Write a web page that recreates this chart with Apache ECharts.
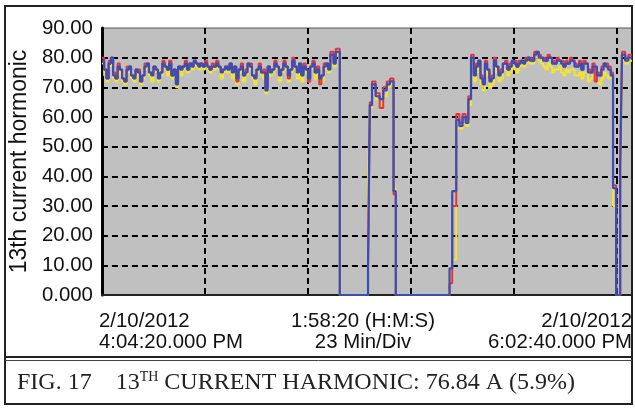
<!DOCTYPE html>
<html>
<head>
<meta charset="utf-8">
<script src="https://cdn.jsdelivr.net/npm/echarts@6/dist/echarts.min.js"></script>
<style>
html,body{margin:0;padding:0;background:#fff;}
#c{width:635px;height:409px;}
</style>
</head>
<body>
<div id="c"></div>
<script>
// sample times in minutes from start (4:04:20 PM)
var times = [0,0.5,1,1.5,2,2.5,3,3.5,4,4.5,5,5.5,6,6.5,7,7.5,8,8.5,9,9.5,
  10,10.5,11,11.5,12,12.5,13,13.5,14,14.5,15,15.5,16,16.5,17,17.5,18,18.5,19,19.5,
  20,20.5,21,21.5,22,22.5,23,23.5,24,24.5,25,25.5,26,26.5,27,27.5,28,28.5,29,29.5,
  30,30.5,31,31.5,32,32.5,33,33.5,34,34.5,35,35.5,36,36.5,37,37.5,38,38.5,39,39.5,
  40,40.5,41,41.5,42,42.5,43,43.5,44,44.5,45,45.5,46,46.5,47,47.5,48,48.5,49,49.5,
  50,50.5,
  51,51.7,52.2,53.1,
  59.4,59.8,60.3,61.1,62,62.8,63.6,64.3,65.1,65.6,
  77.6,78.2,79.1,79.8,80.5,81.2,81.8,82.4,
  83,83.5,84,84.5,85,85.5,86,86.5,87,87.5,88,88.5,89,89.5,90,90.5,91,91.5,92,92.5,
  93,93.5,94,94.5,95,95.5,96,96.5,97,97.5,98,98.5,99,99.5,100,100.5,101,101.5,102,102.5,
  103,103.5,104,104.5,105,105.5,106,106.5,107,107.5,108,108.5,109,109.5,110,110.5,111,111.5,112,112.5,
  113,
  113.6,114.1,114.8,115.7,116.1,116.8,117.5,118.333];

var yellowVals = [78,74,72,77,78,73,72,76,74,72, 71,75,75,73,72,75,73,71,73,76,
  77,74,72,76,75,72,74,77,76,74, 77,73,75,70,76,74,76,77,75,77,
  76,78,77,76,77,76,77,76,75,76, 76,77,76,73,75,76,75,77,73,76,
  71,75,76,72,74,77,76,73,71,75, 76,74,73,68,76,74,75,77,76,72,
  75,77,76,72,75,78,76,73,77,72, 76,75,72,76,77,73,75,72,72,76,
  77,75,
  80,77,81,0,
  38,63,68,66,64,67,70,71,36,0,
  5,12,56,56,58,57,64,78,
  72,75,77,71,69,76,74,70,71,77, 75,72,73,76,76,74,75,77,76,75,
  77,78,77,78,79,78,78,80,80,79, 78,77,76,78,77,75,76,76,77,75,
  74,76,75,76,76,74,74,75,73,75, 75,72,73,74,74,72,71,73,75,74,
  73,
  73,30,0,40,79,78,79,79];

var redVals = [80,76,73,79,80,75,73,78,76,73, 72,77,77,74,74,76,76,72,74,78,
  78,75,75,77,76,74,75,79,77,76, 79,74,76,72,77,77,77,79,76,78,
  78,79,78,78,78,77,79,77,76,78, 77,79,77,76,76,77,77,78,76,77,
  72,76,78,74,76,78,78,74,74,76, 78,75,76,70,77,76,76,79,77,75,
  76,79,77,73,76,80,77,76,78,75, 78,76,72,77,79,75,77,71,74,78,
  78,77,
  82,79,83,0,
  8,65,72,68,63,70,72,73,34,0,
  4,30,61,58,61,59,67,81,
  75,78,79,74,72,79,76,73,74,80, 77,75,76,78,79,76,78,79,79,77,
  79,79,79,80,80,80,79,82,82,81, 80,80,79,81,80,79,78,80,79,79,
  77,79,78,80,79,78,77,79,76,79, 78,76,75,78,72,75,74,77,78,78,
  77,
  75,37,0,44,82,80,81,81];

var blueVals = [79,76,73,78,80,74,73,77,76,73, 72,76,77,74,73,76,75,72,74,77,
  78,75,74,77,76,73,75,78,77,76, 78,74,76,71,77,76,77,78,76,78,
  77,79,78,77,78,77,78,77,76,77, 77,78,77,75,76,77,76,78,75,77,
  73,76,77,74,75,78,77,74,73,76, 77,75,75,69,77,75,76,78,77,74,
  76,78,77,74,76,79,77,75,78,74, 77,76,73,77,78,75,76,73,74,77,
  78,76,
  81,78,82,0,
  9,64,71,67,66,69,71,72,35,0,
  9,35,59,57,60,58,66,80,
  74,77,79,73,71,78,76,72,73,79, 77,74,75,78,78,76,77,79,78,77,
  78,79,78,79,80,79,79,81,82,80, 80,79,79,80,80,78,78,79,79,78,
  77,78,78,79,79,77,77,78,76,78, 78,75,75,77,77,74,74,76,78,77,
  76,
  74,36,0,43,81,79,80,80];

var xMax = 118.333;      // 1:58:20 span
var xDiv = 23;           // 23 Min/Div
var yTicks = [0,10,20,30,40,50,60,70,80,90];
var yTitle = '13th current hormonic';
var startLabel = ['2/10/2012', '4:04:20.000 PM'];
var midLabel = ['1:58:20 (H:M:S)', '23 Min/Div'];
var endLabel = ['2/10/2012', '6:02:40.000 PM'];

function pairs(vals){ return times.map(function(t,i){ return [t, vals[i]]; }); }

var chart = echarts.init(document.getElementById('c'), null, {renderer:'canvas'});
var dash = {color:'#000', width:2, type:[6,4]};
var sans = 'Liberation Sans, Arial, sans-serif';
var serif = 'Liberation Serif, Times New Roman, serif';
chart.setOption({
  animation:false,
  backgroundColor:'#fff',
  grid:{left:98, top:28, right:3, bottom:114, show:true, backgroundColor:'#c0c0c0', borderColor:'#555', borderWidth:1},
  xAxis:{type:'value', min:0, max:xMax, interval:xDiv,
    axisLine:{show:true, onZero:false, lineStyle:{color:'#222', width:2}},
    axisTick:{show:false}, axisLabel:{show:false},
    splitLine:{show:true, showMinLine:false, showMaxLine:false, lineStyle:dash}},
  yAxis:{type:'value', min:yTicks[0], max:yTicks[yTicks.length-1], interval:10,
    axisLine:{show:true, lineStyle:{color:'#000', width:3}},
    axisTick:{show:false},
    axisLabel:{color:'#111', fontSize:20.4, fontFamily:sans, margin:9,
      formatter:function(v){ return v===0 ? '0.000' : v.toFixed(2); }},
    splitLine:{show:true, showMinLine:false, showMaxLine:false, lineStyle:dash},
    name:yTitle, nameLocation:'middle', nameGap:63,
    nameTextStyle:{color:'#111', fontSize:23, fontFamily:sans}},
  series:[
    {type:'line', step:'end', data:pairs(yellowVals), showSymbol:false, lineStyle:{color:'#f2e52c', width:2}, z:2},
    {type:'line', step:'end', data:pairs(redVals), showSymbol:false, lineStyle:{color:'#e8323c', width:2}, z:3},
    {type:'line', step:'end', data:pairs(blueVals), showSymbol:false, lineStyle:{color:'#3d4db3', width:2.2}, z:4}
  ],
  graphic:[
    {type:'rect', shape:{x:5, y:6, width:627, height:398}, style:{fill:'none', stroke:'#222', lineWidth:2}, silent:true},
    {type:'line', shape:{x1:5, y1:357, x2:632, y2:357}, style:{stroke:'#222', lineWidth:2}},
    {type:'line', shape:{x1:5, y1:360.5, x2:632, y2:360.5}, style:{stroke:'#444', lineWidth:1}},
    {type:'text', left:99, top:311, style:{text:startLabel.join('\n'), font:'20.4px '+sans, fill:'#111', lineHeight:21, textAlign:'left'}},
    {type:'text', x:363, y:311, style:{text:midLabel.join('\n'), font:'20.4px '+sans, fill:'#111', lineHeight:21, textAlign:'center'}},
    {type:'text', right:3, top:311, style:{text:endLabel.join('\n'), font:'20.4px '+sans, fill:'#111', lineHeight:21, textAlign:'right'}},
    {type:'text', left:17, top:369, style:{
      text:'{a|FIG. 17    13}{s|TH}{a| CURRENT HARMONIC: 76.84 A (5.9%)}',
      rich:{a:{fontSize:24, fontFamily:serif, fill:'#222', lineHeight:28},
            s:{fontSize:14, fontFamily:serif, fill:'#222', lineHeight:28, verticalAlign:'top', padding:[1,0,0,0]}}}}
  ]
});
</script>
</body>
</html>
